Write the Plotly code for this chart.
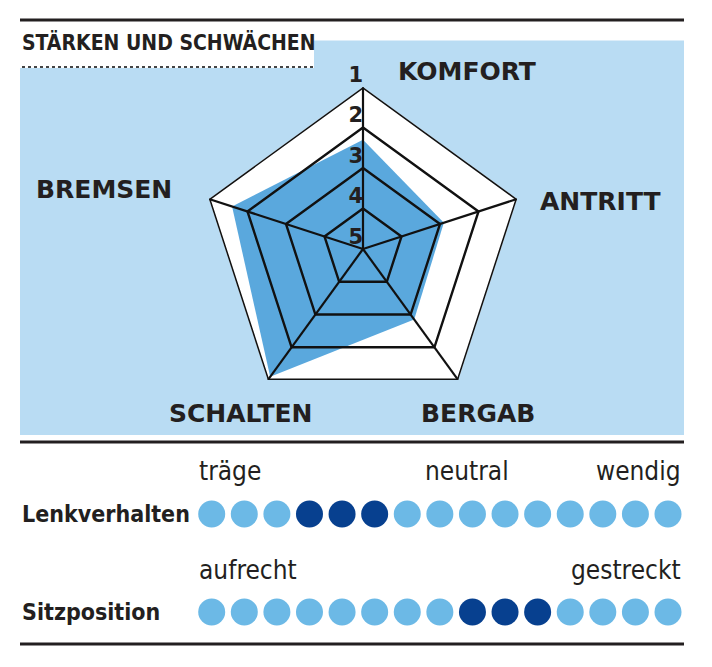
import plotly.graph_objects as go

# ---------------- data ----------------
title_text = "STÄRKEN UND SCHWÄCHEN"
categories = ["KOMFORT", "ANTRITT", "BERGAB", "SCHALTEN", "BREMSEN"]
grades = [2.3, 2.9, 2.85, 1.1, 1.6]          # 1 = best (outer), 5 = center
grade_ticks = [1, 2, 3, 4, 5]

rows = ["Lenkverhalten", "Sitzposition"]
n_dots = 15
lenk_active = [4, 5, 6]
sitz_active = [9, 10, 11]
lenk_scale_labels = ["träge", "neutral", "wendig"]
sitz_scale_labels = ["aufrecht", "gestreckt"]

# ---------------- styles ----------------
W, H = 712, 667
OFF = 8  # page body margin in the browser
PANEL = "#b9dcf3"
FILL = "#5aa8dd"
DOT_LIGHT = "#6cb9e6"
DOT_DARK = "#07408f"
INK = "#231f20"
COND = "DejaVu Sans Condensed, Liberation Sans Narrow, Roboto, sans-serif"
CAT_FONT = dict(family="DejaVu Sans", size=25, color=INK, weight="bold")
NARROW_B = dict(family=COND, size=23, color=INK, weight="bold")
NARROW = dict(family=COND, size=26, color=INK)


def px(x):
    return (x - OFF) / W


def py(y):
    return 1 - (y - OFF) / H


fig = go.Figure()

# radar fill
fig.add_trace(go.Scatterpolar(
    r=grades + grades[:1], theta=categories + categories[:1],
    mode="lines", fill="toself", fillcolor=FILL,
    line=dict(width=0, color=FILL), hoverinfo="skip", showlegend=False,
))

# grid rings (drawn as traces so they sit above the fill)
for lvl in grade_ticks[:-1]:
    fig.add_trace(go.Scatterpolar(
        r=[lvl] * (len(categories) + 1), theta=categories + categories[:1],
        mode="lines", line=dict(color="#111111", width=3 if lvl == 1 else 2.4),
        hoverinfo="skip", showlegend=False, cliponaxis=False,
    ))
# spokes
spoke_r, spoke_t = [], []
for c in categories:
    spoke_r += [grade_ticks[-1], grade_ticks[0], None]
    spoke_t += [c, c, None]
fig.add_trace(go.Scatterpolar(
    r=spoke_r, theta=spoke_t, mode="lines",
    line=dict(color="#111111", width=2.2), hoverinfo="skip", showlegend=False,
    cliponaxis=False,
))

# grade numbers along the top spoke
fig.add_trace(go.Scatterpolar(
    r=grade_ticks, theta=[categories[0]] * len(grade_ticks),
    mode="text", text=[str(v) for v in grade_ticks], textposition="top left",
    textfont=dict(family="DejaVu Sans", size=21, color=INK, weight="bold"),
    hoverinfo="skip", showlegend=False, cliponaxis=False,
))

# polar domain (screen px)
cx, cy, R = 363, 249, 162
fig.update_layout(polar=dict(
    domain=dict(x=[px(cx - R), px(cx + R)], y=[py(cy + R), py(cy - R)]),
    bgcolor="white",
    gridshape="linear",
    angularaxis=dict(
        categoryarray=categories, categoryorder="array",
        rotation=90, direction="clockwise",
        showticklabels=False, ticks="",
        showline=False, showgrid=False,
    ),
    radialaxis=dict(
        range=[5, 0.999], tickvals=grade_ticks,
        showticklabels=False, ticks="", showline=False, showgrid=False,
    ),
))

# category labels
cat_pos = {"KOMFORT": (467, 72), "ANTRITT": (600, 202), "BERGAB": (478, 413),
           "SCHALTEN": (240, 413), "BREMSEN": (104, 190)}
annotations = []
for c in categories:
    x, y = cat_pos[c]
    annotations.append(dict(text=c, x=px(x), y=py(y), xref="paper", yref="paper",
                            xanchor="center", yanchor="middle", showarrow=False,
                            font=CAT_FONT))

# title
annotations.append(dict(text=title_text, x=px(20), y=py(43), xref="paper", yref="paper",
                        xanchor="left", yanchor="middle", showarrow=False,
                        font=dict(family=COND, size=21, color=INK, weight="bold")))

# dot rows (cartesian)
dot_x = list(range(1, n_dots + 1))
row_y = [1, 0]
for name, active, yv in zip(rows, [lenk_active, sitz_active], row_y):
    colors = [DOT_DARK if i in active else DOT_LIGHT for i in dot_x]
    fig.add_trace(go.Scatter(
        x=dot_x, y=[yv] * n_dots, mode="markers",
        marker=dict(size=27, color=colors, line=dict(width=0)),
        hoverinfo="skip", showlegend=False,
    ))

# axis mapping (screen px): x=1 -> 211.7, x=15 -> 668 ; y=1 -> 514, y=0 -> 612
ux = (668 - 211.7) / 14
x0 = 1 - (211.7 - OFF) / ux
uy = 612 - 514
y_top = 1 + (514 - OFF) / uy
y_bot = 0 - (H + OFF - 612) / uy
fig.update_layout(
    xaxis=dict(range=[x0, x0 + W / ux], domain=[0, 1], visible=False, fixedrange=True),
    yaxis=dict(range=[y_bot, y_top], domain=[0, 1], visible=False, fixedrange=True),
)

# row labels
annotations.append(dict(text=rows[0], x=px(20), y=1, xref="paper", yref="y",
                        xanchor="left", yanchor="middle", showarrow=False, font=NARROW_B))
annotations.append(dict(text=rows[1], x=px(20), y=0, xref="paper", yref="y",
                        xanchor="left", yanchor="middle", showarrow=False, font=NARROW_B))

# scale labels
scale_specs = [
    (lenk_scale_labels[0], 197, 471, "left"),
    (lenk_scale_labels[1], 467, 471, "center"),
    (lenk_scale_labels[2], 683, 471, "right"),
    (sitz_scale_labels[0], 197, 570, "left"),
    (sitz_scale_labels[1], 683, 570, "right"),
]
for t, x, y, anc in scale_specs:
    annotations.append(dict(text=t, x=px(x), y=py(y), xref="paper", yref="paper",
                            xanchor=anc, yanchor="middle", showarrow=False, font=NARROW))

shapes = [
    # light-blue panel (right part beside the title, and main body)
    dict(type="rect", xref="paper", yref="paper", x0=px(314), x1=px(684),
         y0=py(68), y1=py(40.5), fillcolor=PANEL, line=dict(width=0), layer="below"),
    dict(type="rect", xref="paper", yref="paper", x0=px(20), x1=px(684),
         y0=py(435), y1=py(68), fillcolor=PANEL, line=dict(width=0), layer="below"),
    # rules
    dict(type="line", xref="paper", yref="paper", x0=px(20), x1=px(684),
         y0=py(20), y1=py(20), line=dict(color=INK, width=3)),
    dict(type="line", xref="paper", yref="paper", x0=px(20), x1=px(684),
         y0=py(442), y1=py(442), line=dict(color=INK, width=3)),
    dict(type="line", xref="paper", yref="paper", x0=px(20), x1=px(684),
         y0=py(644), y1=py(644), line=dict(color=INK, width=3)),
    # dotted line under the title
    dict(type="line", xref="paper", yref="paper", x0=px(22), x1=px(316),
         y0=py(67), y1=py(67), line=dict(color="#444444", width=2, dash="dot")),
]

fig.update_layout(
    width=W, height=H, margin=dict(l=0, r=0, t=0, b=0),
    paper_bgcolor="white", plot_bgcolor="rgba(0,0,0,0)",
    annotations=annotations, shapes=shapes, showlegend=False,
)

fig.write_html("out.html")
